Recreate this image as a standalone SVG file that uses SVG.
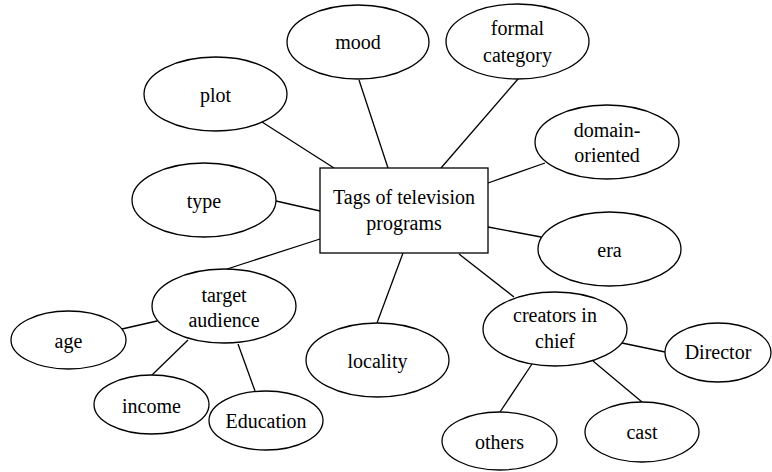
<svg xmlns="http://www.w3.org/2000/svg" width="772" height="472" viewBox="0 0 772 472">
<style>
  .n ellipse, .n rect { fill: #fff; stroke: #000; stroke-width: 1.3; }
  .c line { stroke: #000; stroke-width: 1.3; }
  .n text { font-family: 'Liberation Serif', 'Times New Roman', serif; font-size: 20px; text-anchor: middle; fill: #000; }
</style>
<rect width="772" height="472" fill="#fff"/>
<g id="connectors" class="c">
  <line x1="262" y1="122" x2="334" y2="168"/>
  <line x1="359" y1="80" x2="388" y2="168"/>
  <line x1="518" y1="79" x2="441" y2="168"/>
  <line x1="545" y1="163" x2="488" y2="183"/>
  <line x1="488" y1="227" x2="541" y2="237"/>
  <line x1="276" y1="201" x2="320" y2="211"/>
  <line x1="320" y1="239" x2="227" y2="269"/>
  <line x1="403" y1="253" x2="377" y2="323"/>
  <line x1="459" y1="254" x2="514" y2="297"/>
  <line x1="122" y1="329" x2="157" y2="321"/>
  <line x1="152" y1="375" x2="188" y2="340"/>
  <line x1="238" y1="344" x2="255" y2="391"/>
  <line x1="622" y1="343" x2="665" y2="352"/>
  <line x1="532" y1="364" x2="500" y2="412"/>
  <line x1="593" y1="361" x2="642" y2="402"/>
</g>
<g id="center" class="n">
  <rect x="320" y="168" width="168" height="85"/>
  <text x="404" y="204">Tags of television</text>
  <text x="404" y="230">programs</text>
</g>
<g id="mood" class="n"><ellipse cx="358" cy="42" rx="71" ry="37"/><text x="358" y="49">mood</text></g>
<g id="plot" class="n"><ellipse cx="215.5" cy="94" rx="71.5" ry="37"/><text x="215.5" y="102">plot</text></g>
<g id="type" class="n"><ellipse cx="204" cy="200" rx="72" ry="37"/><text x="204" y="208">type</text></g>
<g id="formal" class="n"><ellipse cx="517.5" cy="41.5" rx="71.5" ry="37.5"/><text x="517.5" y="35">formal</text><text x="517.5" y="62">category</text></g>
<g id="domain" class="n"><ellipse cx="607" cy="142" rx="72" ry="37"/><text x="607" y="137">domain-</text><text x="607" y="162">oriented</text></g>
<g id="era" class="n"><ellipse cx="609.5" cy="249" rx="71.5" ry="37"/><text x="609.5" y="257">era</text></g>
<g id="target" class="n"><ellipse cx="224" cy="306" rx="72" ry="37"/><text x="224" y="302">target</text><text x="224" y="327">audience</text></g>
<g id="age" class="n"><ellipse cx="68.5" cy="340" rx="57.5" ry="29"/><text x="68.5" y="348">age</text></g>
<g id="income" class="n"><ellipse cx="151.5" cy="404.5" rx="57.5" ry="29.5"/><text x="151.5" y="413">income</text></g>
<g id="education" class="n"><ellipse cx="266" cy="420.5" rx="57" ry="29.5"/><text x="266" y="428">Education</text></g>
<g id="locality" class="n"><ellipse cx="377.5" cy="360" rx="71.5" ry="37"/><text x="377.5" y="368">locality</text></g>
<g id="creators" class="n"><ellipse cx="555" cy="329" rx="72" ry="37"/><text x="555" y="322">creators in</text><text x="555" y="348">chief</text></g>
<g id="director" class="n"><ellipse cx="718" cy="352.5" rx="53" ry="29.5"/><text x="718" y="359">Director</text></g>
<g id="others" class="n"><ellipse cx="499.5" cy="441" rx="57.5" ry="29"/><text x="499.5" y="449">others</text></g>
<g id="cast" class="n"><ellipse cx="642" cy="432" rx="57" ry="30"/><text x="642" y="439">cast</text></g>
</svg>
